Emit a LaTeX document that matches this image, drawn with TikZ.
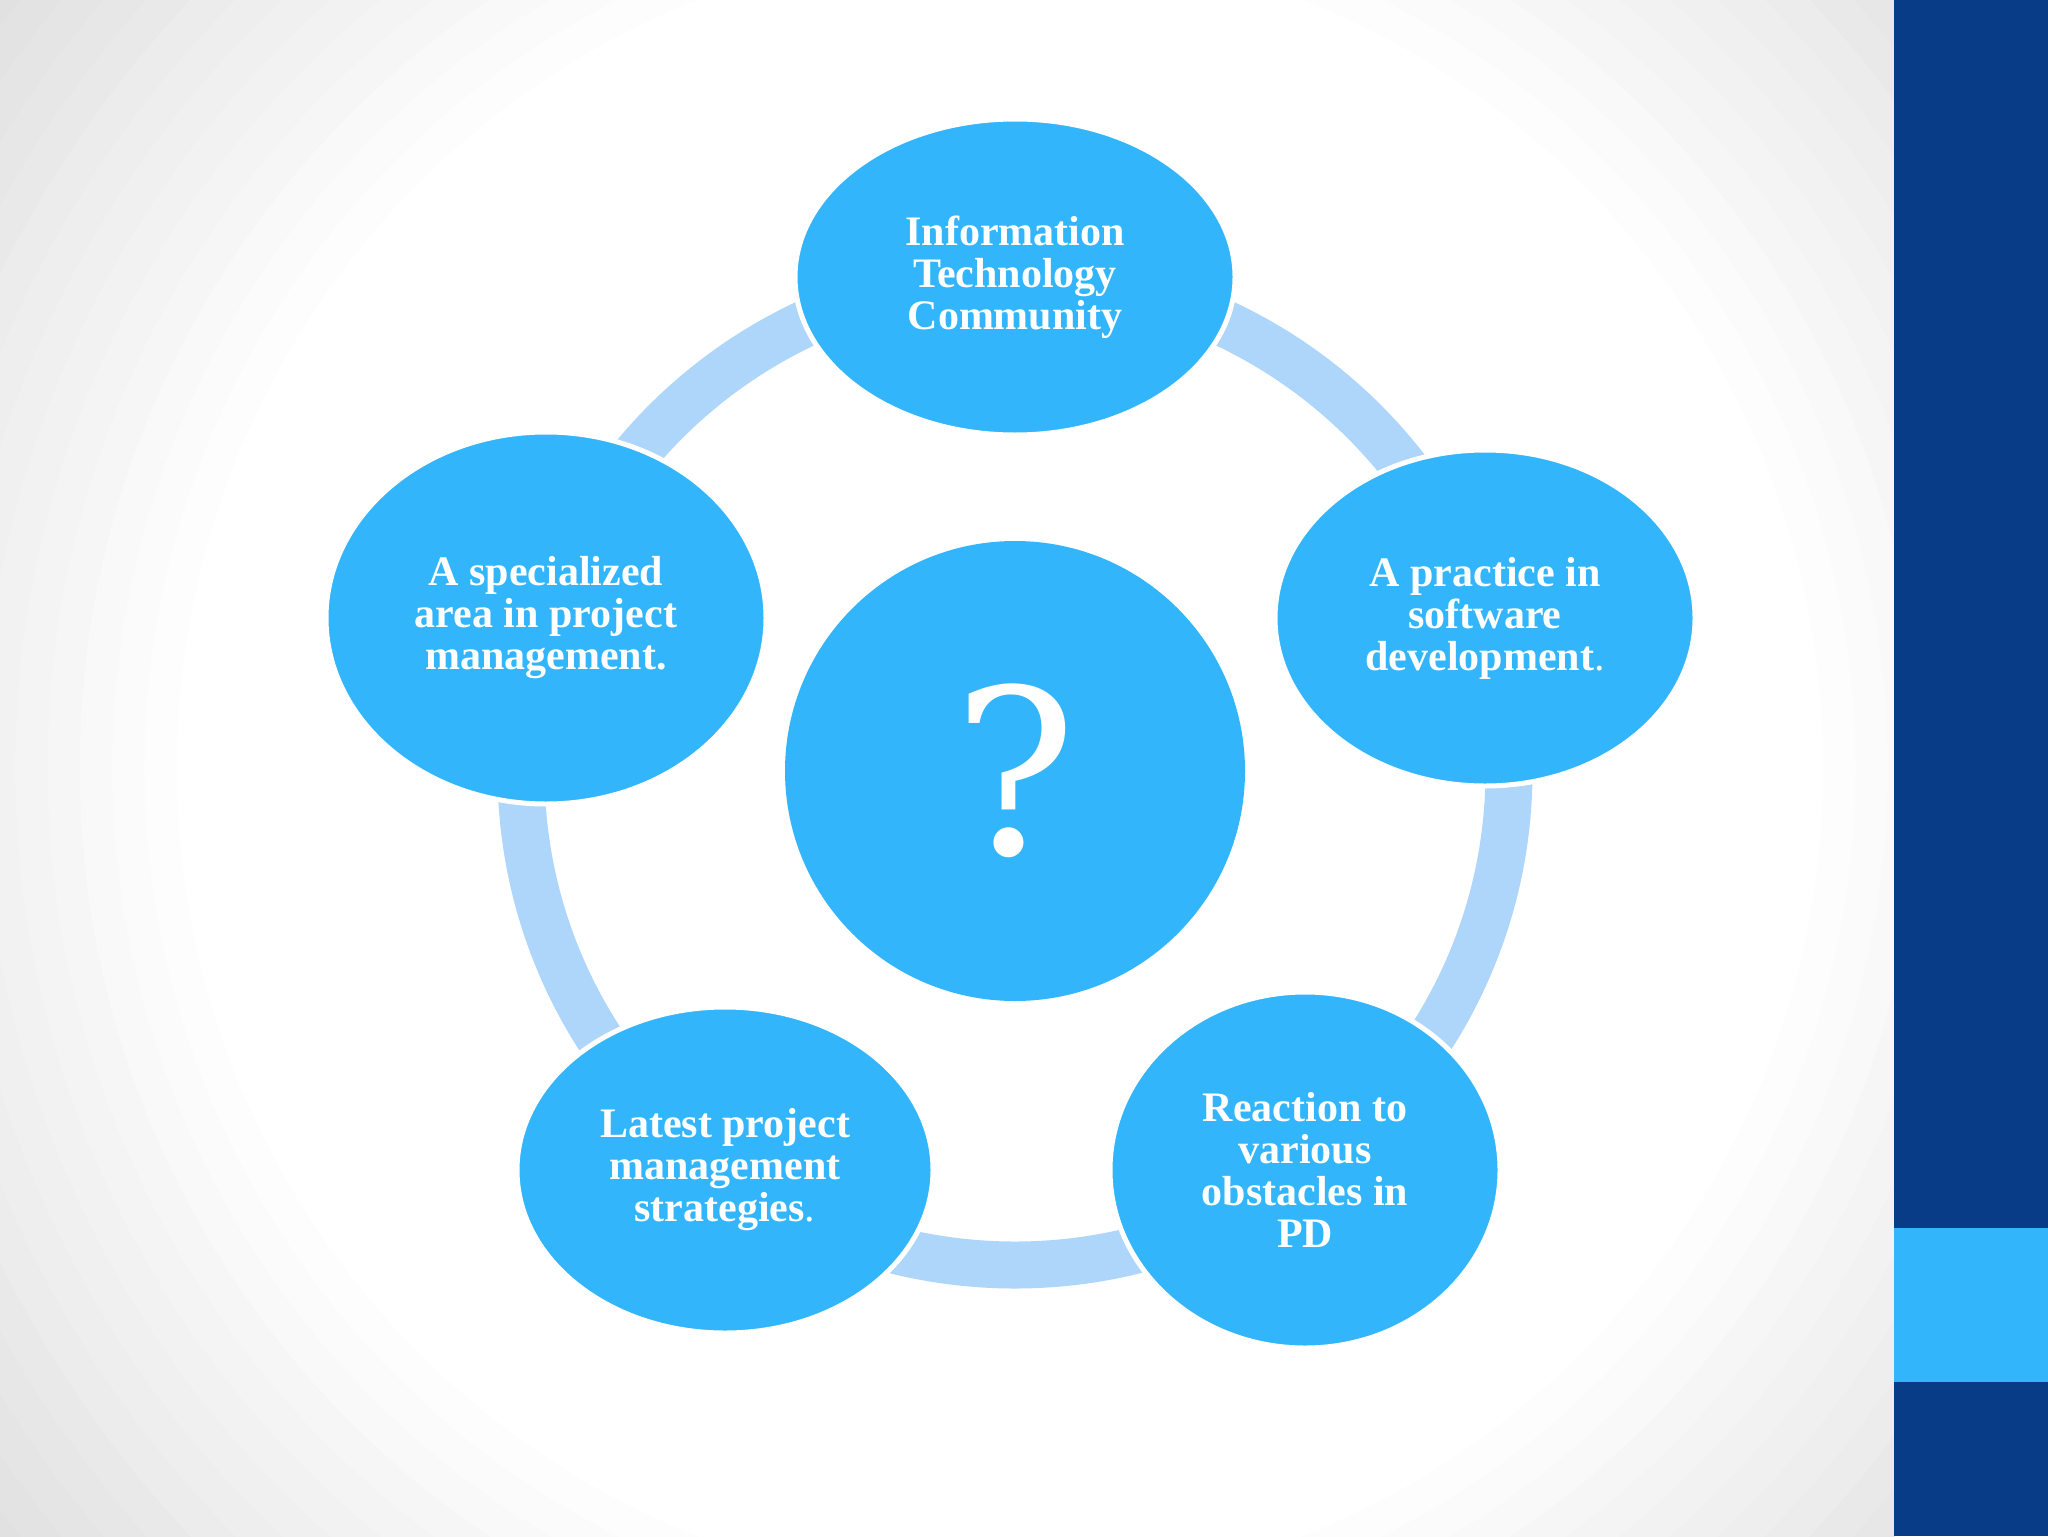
\documentclass[tikz,border=0pt]{standalone}
\usepackage{fontspec}
\setmainfont{Liberation Serif}
\newfontfamily\markfont{DejaVu Serif}
\usetikzlibrary{shapes.geometric}
\definecolor{ideablue}{HTML}{33B5FB}
\definecolor{ringblue}{HTML}{AED6FB}
\definecolor{bardark}{HTML}{093C87}

\begin{document}
\begin{tikzpicture}[x=0.5pt,y=-0.5pt,
  idea/.style={ellipse, fill=ideablue, draw=white, line width=2.5pt, text=white,
    font=\bfseries\fontsize{21}{21}\selectfont, align=center, inner sep=0pt},
  hub/.style={circle, fill=ideablue, text=white, minimum size=230pt, inner sep=0pt,
    font=\markfont\fontsize{115}{115}\selectfont},
  ring/.style={draw=ringblue, line width=23.5pt}]
  \useasboundingbox (0,0) rectangle (2048,1536);
  % background glow, stepped from grey corners to white middle
  \begin{scope}
    \clip (0,0) rectangle (1894,1536);
    \fill[black!17] (0,0) rectangle (1894,1536);
    \foreach \i [evaluate=\i as \g using {17-0.85*\i},
                 evaluate=\i as \rr using {50-1.1*\i}] in {0,...,20}
      \fill[black!\g] (1000,768) ellipse [x radius=\rr*29.4, y radius=\rr*29.5];
  \end{scope}
  \fill[bardark] (1894,0) rectangle (2048,1536);
  \fill[ideablue] (1894,1228) rectangle (2048,1382);
  % centre and ring
  \node[hub] (q) at (1015,771) {?};
  \draw[ring] (q.center) circle (247pt);
  % ideas round the ring
  \node[idea, minimum width=220pt, minimum height=158pt] (it) at (1015,277)
    {Information\\Technology\\Community};
  \node[idea, minimum width=210pt, minimum height=168pt] (sw) at (1485,618)
    {A practice in\\software\\development{\mdseries .}};
  \node[idea, minimum width=195pt, minimum height=178pt] (pd) at (1305,1170)
    {Reaction to\\various\\obstacles in\\PD};
  \node[idea, minimum width=208pt, minimum height=163pt] (ls) at (725,1170)
    {Latest project\\management\\strategies{\mdseries .}};
  \node[idea, minimum width=220pt, minimum height=186pt] (pm) at (546,618)
    {A specialized\\area in project\\management.};
\end{tikzpicture}
\end{document}
